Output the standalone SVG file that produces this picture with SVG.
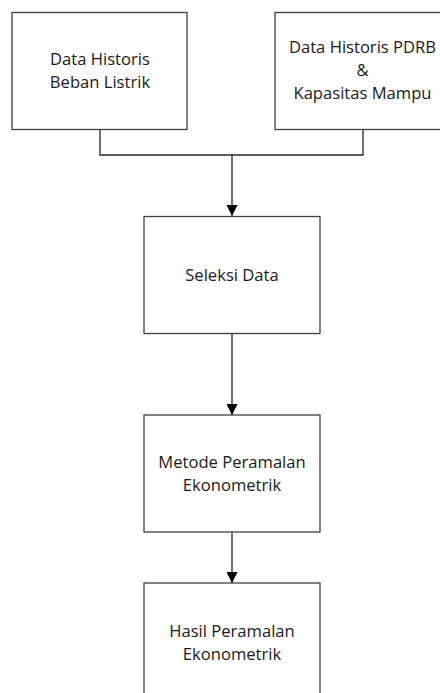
<svg xmlns="http://www.w3.org/2000/svg" width="440" height="693" viewBox="0 0 440 693">
<style>
.box{fill:#fff;stroke:#404040;stroke-width:1.3}
.lbl{font-family:"Open Sans","Liberation Sans",sans-serif;font-size:16.6px;fill:#1a1a1a;text-anchor:middle}
.conn{fill:none;stroke:#262626;stroke-width:1.3}
</style>
<defs>
<marker id="ah" markerWidth="11" markerHeight="11" refX="11" refY="5.5" orient="auto" markerUnits="userSpaceOnUse">
<path d="M0,0 L11,5.5 L0,11 Z" fill="#000"/>
</marker>
</defs>
<rect width="440" height="693" fill="#fff"/>
<g id="connectors">
<path class="conn" d="M100,129 V155 H363 V129"/>
<path class="conn" d="M232,155 V216" marker-end="url(#ah)"/>
<path class="conn" d="M232,333 V415" marker-end="url(#ah)"/>
<path class="conn" d="M232,532 V583" marker-end="url(#ah)"/>
</g>
<g id="n1">
<rect class="box" x="12" y="12.5" width="175" height="117"/>
<text class="lbl" x="100" y="65">Data Historis</text>
<text class="lbl" x="100" y="88">Beban Listrik</text>
</g>
<g id="n2">
<rect class="box" x="275" y="12.5" width="170" height="117"/>
<text class="lbl" x="362.5" y="53">Data Historis PDRB</text>
<text class="lbl" x="362.5" y="76">&amp;</text>
<text class="lbl" x="362.5" y="99">Kapasitas Mampu</text>
</g>
<g id="n3">
<rect class="box" x="144" y="216.5" width="176" height="117"/>
<text class="lbl" x="232" y="281">Seleksi Data</text>
</g>
<g id="n4">
<rect class="box" x="144" y="415" width="176" height="117"/>
<text class="lbl" x="232" y="468">Metode Peramalan</text>
<text class="lbl" x="232" y="491">Ekonometrik</text>
</g>
<g id="n5">
<rect class="box" x="144" y="583" width="176" height="130"/>
<text class="lbl" x="232" y="637">Hasil Peramalan</text>
<text class="lbl" x="232" y="660">Ekonometrik</text>
</g>
</svg>
